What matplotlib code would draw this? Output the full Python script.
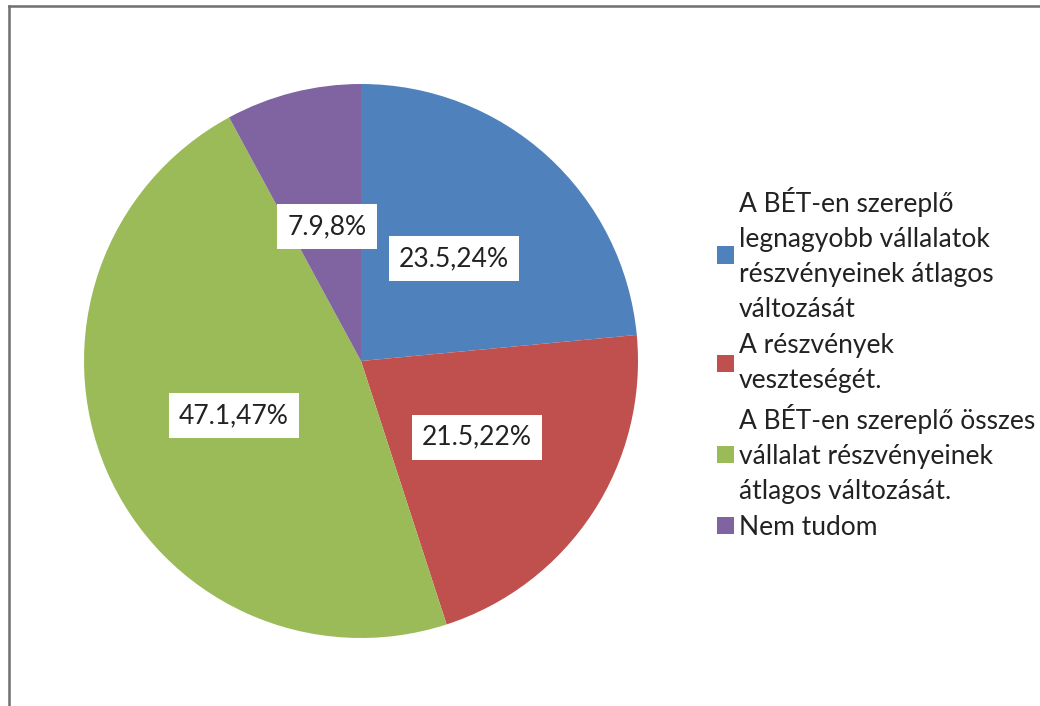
import matplotlib.pyplot as plt
from matplotlib.lines import Line2D

# data
categories = [
    "A BÉT-en szereplő\nlegnagyobb vállalatok\nrészvényeinek átlagos\nváltozását",
    "A részvények\nveszteségét.",
    "A BÉT-en szereplő összes\nvállalat részvényeinek\nátlagos változását.",
    "Nem tudom",
]
values = [23.5, 21.5, 47.1, 7.9]
colors = ["#4F81BD", "#C0504D", "#9BBB59", "#8064A2"]

plt.rcParams['font.family'] = ['Lato', 'DejaVu Sans']

W, H = 1040, 706
fig = plt.figure(figsize=(W / 100, H / 100), dpi=100)

# pie centre (361, 361) px, radius 277 px
cx, cy, r = 361, 361, 277
ax = fig.add_axes([(cx - r) / W, (H - cy - r) / H, 2 * r / W, 2 * r / H])

wedges, texts, autotexts = ax.pie(
    values, colors=colors, startangle=90, counterclock=False,
    autopct=lambda p: "", pctdistance=0.5, radius=1,
    wedgeprops=dict(linewidth=0),
)
for t, v in zip(autotexts, values):
    t.set_text(f"{v:.1f},{v:.0f}%")
    t.set_fontsize(19)
    t.set_color("#222222")
    t.set_bbox(dict(facecolor="white", edgecolor="none", boxstyle="square,pad=0.38"))
ax.set_xlim(-1, 1)
ax.set_ylim(-1, 1)
ax.set_aspect("equal")

leg = fig.legend(
    wedges, categories, loc="upper left",
    bbox_to_anchor=(706 / W, 1 - 176 / H), frameon=False,
    fontsize=19, handlelength=0.65, handleheight=0.65, handletextpad=0.2,
    labelspacing=0.42, borderaxespad=0,
)
for t in leg.get_texts():
    t.set_linespacing(1.5)
    t.set_color("#222222")

# chart frame lines (left and top)
fig.add_artist(Line2D([8.5 / W, 8.5 / W], [0, 1 - 6 / H], transform=fig.transFigure,
                      color="#6f6f6f", linewidth=1.8))
fig.add_artist(Line2D([8.5 / W, 1], [1 - 6 / H, 1 - 6 / H], transform=fig.transFigure,
                      color="#6f6f6f", linewidth=1.8))

fig.savefig("out.png", dpi=100)
